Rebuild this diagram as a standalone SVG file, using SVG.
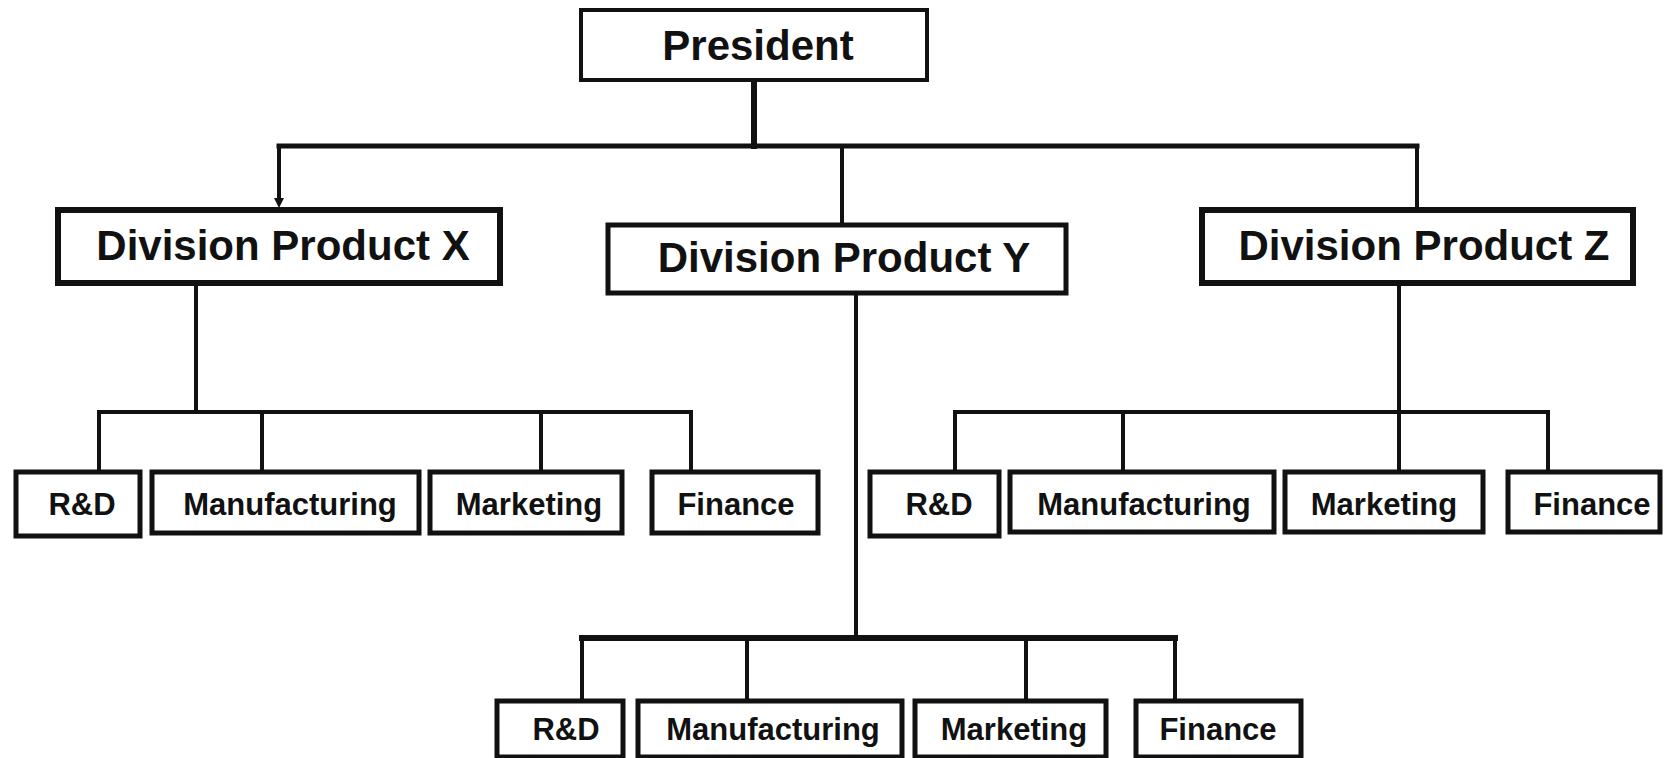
<svg xmlns="http://www.w3.org/2000/svg" width="1668" height="758" viewBox="0 0 1668 758">
<style>
.box{fill:#fff;stroke:#111;stroke-width:5}
.t{font-family:"Liberation Sans",Arial,sans-serif;font-weight:bold;fill:#111;text-anchor:middle}
.big{font-size:42px}
.sm{font-size:31px}
.ln{fill:none;stroke:#111;stroke-width:4;stroke-linecap:square}
</style>
<defs>
<marker id="arr" markerUnits="userSpaceOnUse" viewBox="0 0 10 10" markerWidth="10" markerHeight="11" refX="0" refY="5" orient="auto">
<path d="M0,0 L10,5 L0,10 z" fill="#111"/>
</marker>
</defs>
<rect width="1668" height="758" fill="#fff"/>
<g id="connectors">
<path class="ln" d="M754,80 V146" style="stroke-width:6"/>
<path class="ln" d="M279,146 H1417" style="stroke-width:5"/>
<path class="ln" d="M279,146 V198" marker-end="url(#arr)"/>
<path class="ln" d="M842,146 V224"/>
<path class="ln" d="M1417,146 V208"/>
<path class="ln" d="M196,283 V412"/>
<path class="ln" d="M99,412 H691"/>
<path class="ln" d="M99,412 V471 M262,412 V471 M541,412 V471 M691,412 V471"/>
<path class="ln" d="M1399,283 V471"/>
<path class="ln" d="M955,412 H1548"/>
<path class="ln" d="M955,412 V471 M1123,412 V471 M1548,412 V471"/>
<path class="ln" d="M856,293 V638"/>
<path class="ln" d="M582,638 H1175" style="stroke-width:6"/>
<path class="ln" d="M582,638 V700 M747,638 V700 M1026,638 V700 M1175,638 V700"/>
</g>
<g id="president"><rect class="box" x="581" y="10" width="346" height="70" style="stroke-width:4"/><text class="t big" x="758" y="60">President</text></g>
<g id="divX"><rect class="box" x="58" y="210" width="442" height="73" style="stroke-width:6"/><text class="t big" x="283" y="260">Division Product X</text></g>
<g id="divY"><rect class="box" x="608" y="225" width="458" height="68"/><text class="t big" x="844" y="272">Division Product Y</text></g>
<g id="divZ"><rect class="box" x="1202" y="210" width="431" height="73" style="stroke-width:6"/><text class="t big" x="1424" y="260">Division Product Z</text></g>
<g id="x_rd"><rect class="box" x="16" y="472" width="124" height="64"/><text class="t sm" x="82" y="515">R&amp;D</text></g>
<g id="x_mfg"><rect class="box" x="152" y="472" width="267" height="61"/><text class="t sm" x="290" y="515">Manufacturing</text></g>
<g id="x_mkt"><rect class="box" x="430" y="472" width="192" height="61"/><text class="t sm" x="529" y="515">Marketing</text></g>
<g id="x_fin"><rect class="box" x="652" y="472" width="166" height="61"/><text class="t sm" x="736" y="515">Finance</text></g>
<g id="z_rd"><rect class="box" x="870" y="472" width="129" height="64"/><text class="t sm" x="939" y="515">R&amp;D</text></g>
<g id="z_mfg"><rect class="box" x="1010" y="472" width="264" height="60"/><text class="t sm" x="1144" y="515">Manufacturing</text></g>
<g id="z_mkt"><rect class="box" x="1285" y="472" width="198" height="60"/><text class="t sm" x="1384" y="515">Marketing</text></g>
<g id="z_fin"><rect class="box" x="1508" y="472" width="152" height="60"/><text class="t sm" x="1592" y="515">Finance</text></g>
<g id="y_rd"><rect class="box" x="497" y="701" width="126" height="56"/><text class="t sm" x="566" y="740">R&amp;D</text></g>
<g id="y_mfg"><rect class="box" x="638" y="701" width="264" height="56"/><text class="t sm" x="773" y="740">Manufacturing</text></g>
<g id="y_mkt"><rect class="box" x="915" y="701" width="191" height="56"/><text class="t sm" x="1014" y="740">Marketing</text></g>
<g id="y_fin"><rect class="box" x="1136" y="701" width="165" height="56"/><text class="t sm" x="1218" y="740">Finance</text></g>
</svg>
